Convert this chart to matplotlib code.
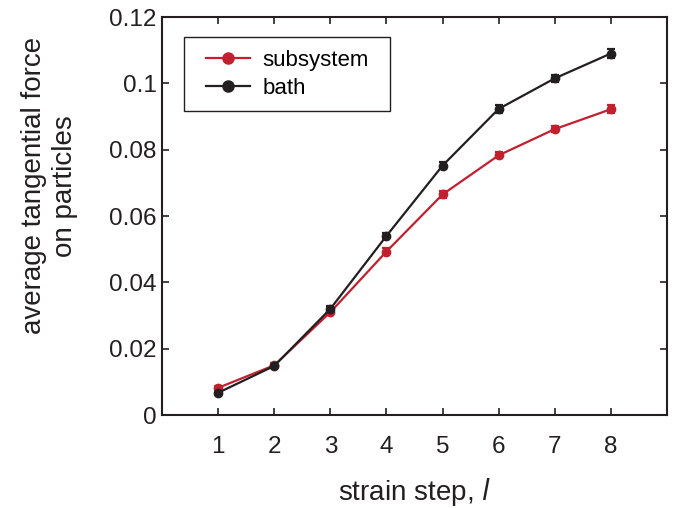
import numpy as np
import matplotlib.pyplot as plt
from matplotlib.lines import Line2D
from matplotlib.patches import Rectangle

plt.rcParams['font.family'] = ['Liberation Sans', 'DejaVu Sans']

steps = [1, 2, 3, 4, 5, 6, 7, 8]
subsystem = [0.0082, 0.0150, 0.0310, 0.0493, 0.0665, 0.0783, 0.0862, 0.0922]
subsystem_err = [0.0007, 0.0007, 0.0008, 0.0010, 0.0010, 0.0009, 0.0010, 0.0012]
bath = [0.0067, 0.0148, 0.0320, 0.0540, 0.0752, 0.0923, 0.1015, 0.1090]
bath_err = [0.0007, 0.0007, 0.0008, 0.0010, 0.0010, 0.0011, 0.0010, 0.0015]

red = '#c21f2f'
black = '#231f20'

fig = plt.figure(figsize=(6.79, 5.08), dpi=100)
ax = fig.add_axes([0.2386, 0.183, 0.7437, 0.7835])

ax.errorbar(steps, subsystem, yerr=subsystem_err, color=red, marker='o', ms=6,
            lw=1.6, capsize=3.2, elinewidth=1.6, capthick=1.6)
ax.errorbar(steps, bath, yerr=bath_err, color=black, marker='o', ms=6,
            lw=1.6, capsize=3.2, elinewidth=1.6, capthick=1.6)

ax.set_xlim(0, 9)
ax.set_ylim(0, 0.12)
ax.set_xticks(steps)
ax.set_yticks([0, 0.02, 0.04, 0.06, 0.08, 0.1, 0.12])
ax.set_yticklabels(['0', '0.02', '0.04', '0.06', '0.08', '0.1', '0.12'])
ax.tick_params(direction='in', top=True, right=True, labelsize=17.5, length=5,
               width=1.2, colors=black, pad=4)
ax.tick_params(axis='x', pad=15)
for s in ax.spines.values():
    s.set_linewidth(1.5)
    s.set_color(black)

ax.set_xlabel('strain step, $\\mathit{l}$', fontsize=20, color=black, labelpad=13)
fig.text(0.073, 0.634, 'average tangential force\non particles', fontsize=20,
         color=black, rotation=90, ha='center', va='center',
         multialignment='center', linespacing=1.25)

# legend without its own frame, box drawn separately
handles = [Line2D([], [], color=red, marker='o', ms=8, lw=1.6),
           Line2D([], [], color=black, marker='o', ms=8, lw=1.6)]
leg = ax.legend(handles, ['subsystem', 'bath'], loc='upper left',
                bbox_to_anchor=(0.0871, 0.917), fontsize=16, frameon=False,
                handlelength=2.0, handletextpad=0.55, borderpad=0,
                labelspacing=0.3, borderaxespad=0)
ax.add_patch(Rectangle((0.0436, 0.7638), 0.408, 0.186, transform=ax.transAxes,
                       fill=False, edgecolor=black, lw=1.0, zorder=4))

fig.savefig('out.png', dpi=100)
